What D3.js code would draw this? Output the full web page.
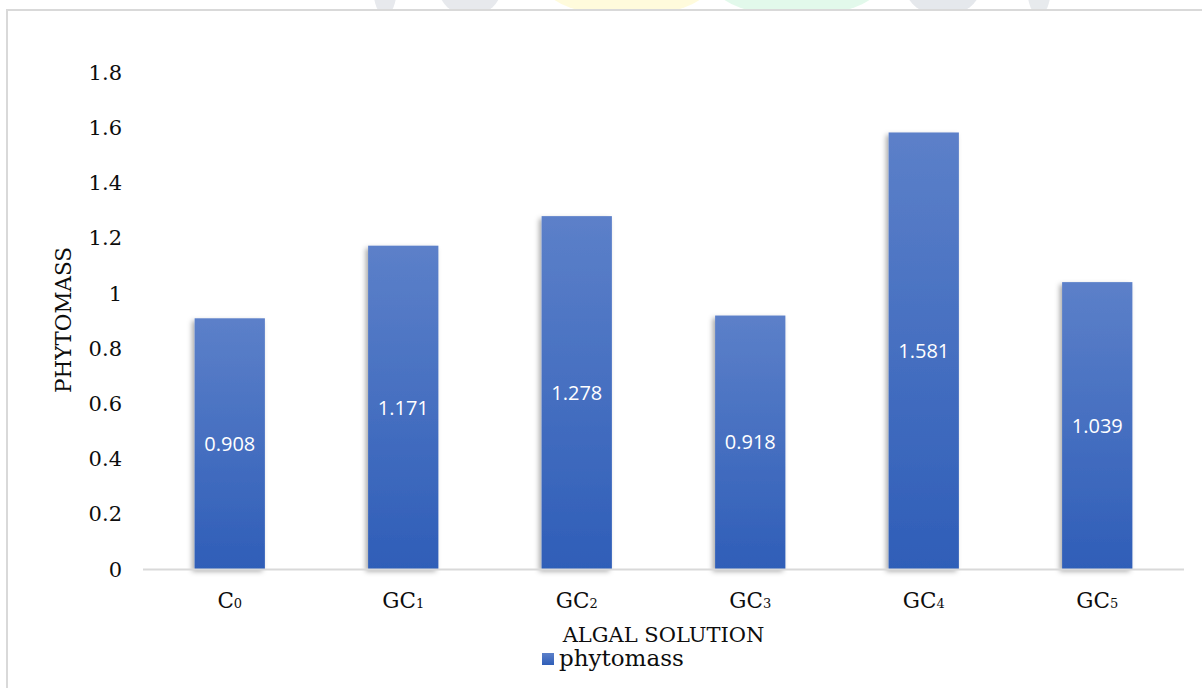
<!DOCTYPE html>
<html>
<head>
<meta charset="utf-8">
<script src="https://cdn.jsdelivr.net/npm/d3@7"></script>
<style>
  html, body { margin: 0; padding: 0; background: #ffffff; }
  svg { display: block; }
</style>
</head>
<body>
<svg id="chart" width="1202" height="688"></svg>
<script>
// Phytomass obtained with each algal solution
const categories = ["C₀", "GC₁", "GC₂", "GC₃", "GC₄", "GC₅"];
const phytomass = [0.908, 1.171, 1.278, 0.918, 1.581, 1.039];
const yTicks = [0, 0.2, 0.4, 0.6, 0.8, 1, 1.2, 1.4, 1.6, 1.8];
const seriesName = "phytomass";
const xTitle = "ALGAL SOLUTION";
const yTitle = "PHYTOMASS";

const W = 1202, H = 688;
const plot = { left: 143, right: 1184, top: 72, bottom: 569 };
const serif = "'DejaVu Serif', serif";
const sans = "'Open Sans', 'Noto Sans', sans-serif";
const ink = "#0d0d0d";

const svg = d3.select("#chart");
const defs = svg.append("defs");

// vertical fill of the bars
const grad = defs.append("linearGradient")
  .attr("id", "barFill").attr("x1", 0).attr("y1", 0).attr("x2", 0).attr("y2", 1);
grad.append("stop").attr("offset", "0%").attr("stop-color", "#5c80c9");
grad.append("stop").attr("offset", "100%").attr("stop-color", "#2f5eb8");

const shadow = defs.append("filter").attr("id", "barShadow")
  .attr("x", "-20%").attr("y", "-10%").attr("width", "140%").attr("height", "120%");
shadow.append("feDropShadow")
  .attr("dx", -2.5).attr("dy", 2.5).attr("stdDeviation", 2.4)
  .attr("flood-color", "#000").attr("flood-opacity", 0.33);

// faint page emblem peeking above the chart frame
const emblem = svg.append("g").attr("opacity", 0.85);
[
  { cx: 385, rx: 12, fill: "#e3e6ea" },
  { cx: 470, rx: 32, fill: "#e3e6ea" },
  { cx: 627, rx: 82, fill: "#fffbd6" },
  { cx: 797, rx: 82, fill: "#def9e8" },
  { cx: 943, rx: 38, fill: "#e1e4e9" },
  { cx: 1039, rx: 12, fill: "#e3e6ea" }
].forEach(s => {
  emblem.append("ellipse").attr("cx", s.cx).attr("cy", -14)
    .attr("rx", s.rx).attr("ry", 30).attr("fill", s.fill);
});

// chart area with its frame
svg.append("rect")
  .attr("x", 7).attr("y", 10).attr("width", W + 20).attr("height", H + 20)
  .attr("fill", "#ffffff").attr("stroke", "#d9d9d9").attr("stroke-width", 2);

const x = d3.scaleBand()
  .domain(categories)
  .range([plot.left, plot.right])
  .paddingInner(0.595)
  .paddingOuter(0.2975);

const y = d3.scaleLinear()
  .domain([0, 1.8])
  .range([plot.bottom, plot.top]);

// y axis labels (no line, no ticks)
const yAxis = svg.append("g")
  .attr("transform", `translate(${plot.left - 21},0)`)
  .call(d3.axisLeft(y).tickValues(yTicks).tickSize(0).tickPadding(0)
    .tickFormat(d => d3.format("")(+d.toFixed(1))));
yAxis.select(".domain").remove();
yAxis.selectAll("text")
  .attr("font-family", serif).attr("font-size", 21).attr("fill", ink)
  .attr("dy", "0.34em");

// bars
const rows = categories.map((c, i) => ({ c, v: phytomass[i] }));
const bars = svg.append("g");
bars.selectAll("rect")
  .data(rows)
  .join("rect")
  .attr("x", d => x(d.c))
  .attr("y", d => y(d.v))
  .attr("width", x.bandwidth())
  .attr("height", d => y(0) - y(d.v))
  .attr("fill", "url(#barFill)")
  .attr("filter", "url(#barShadow)");

// baseline
svg.append("line")
  .attr("x1", plot.left).attr("x2", plot.right)
  .attr("y1", y(0) + 0.5).attr("y2", y(0) + 0.5)
  .attr("stroke", "#d9d9d9").attr("stroke-width", 2);

// value labels at the middle of each bar
bars.selectAll("text")
  .data(rows)
  .join("text")
  .attr("x", d => x(d.c) + x.bandwidth() / 2)
  .attr("y", d => (y(d.v) + y(0)) / 2)
  .attr("dy", "0.36em")
  .attr("text-anchor", "middle")
  .attr("font-family", sans).attr("font-size", 20)
  .attr("fill", "#ffffff")
  .text(d => d3.format(".3f")(d.v));

// category labels: base letters with small digits on the baseline
const subDigits = "₀₁₂₃₄₅₆₇₈₉";
const xAxis = svg.append("g")
  .attr("transform", `translate(0,${plot.bottom})`)
  .call(d3.axisBottom(x).tickSize(0).tickPadding(0).tickFormat(""));
xAxis.select(".domain").remove();
xAxis.selectAll(".tick").each(function(d) {
  const base = [...d].filter(ch => !subDigits.includes(ch)).join("");
  const sub = [...d].filter(ch => subDigits.includes(ch))
    .map(ch => subDigits.indexOf(ch)).join("");
  const t = d3.select(this).append("text")
    .attr("y", 39)
    .attr("text-anchor", "middle")
    .attr("font-family", serif).attr("font-size", 21.5).attr("fill", ink);
  t.append("tspan").text(base);
  t.append("tspan").attr("font-size", 13).text(sub);
});

// axis titles
svg.append("text")
  .attr("x", (plot.left + plot.right) / 2).attr("y", 642)
  .attr("text-anchor", "middle")
  .attr("font-family", serif).attr("font-size", 21).attr("fill", ink)
  .text(xTitle);

svg.append("text")
  .attr("transform", "translate(71,320) rotate(-90)")
  .attr("text-anchor", "middle")
  .attr("font-family", serif).attr("font-size", 21.5).attr("fill", ink)
  .text(yTitle);

// legend
const legend = svg.append("g").attr("transform", "translate(542,653)");
legend.append("rect").attr("width", 12).attr("height", 12).attr("fill", "url(#barFill)");
legend.append("text")
  .attr("x", 17).attr("y", 13)
  .attr("font-family", serif).attr("font-size", 23).attr("fill", ink)
  .text(seriesName);
</script>
</body>
</html>
